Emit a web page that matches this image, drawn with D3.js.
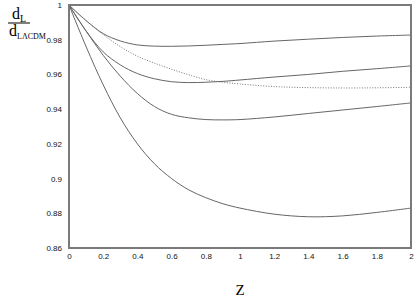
<!DOCTYPE html>
<html><head><meta charset="utf-8">
<script src="https://cdn.jsdelivr.net/npm/d3@7"></script>
<style>body{margin:0;background:#fff}svg{display:block}</style>
</head><body>
<script>
const zValues = [0,0.1,0.2,0.3,0.4,0.5,0.6,0.7,0.8,0.9,1.0,1.2,1.4,1.6,1.8,2.0];
const curveA = [1,0.991,0.9835,0.9793,0.977,0.9763,0.9762,0.9764,0.9768,0.9773,0.9778,0.9792,0.9803,0.9813,0.9821,0.9827];
const curveDotted = [1,0.991,0.983,0.976,0.9705,0.9665,0.963,0.9598,0.957,0.9555,0.9545,0.953,0.9524,0.9522,0.9523,0.9526];
const curveB = [1,0.985,0.973,0.9655,0.9605,0.9575,0.9558,0.9553,0.9555,0.956,0.9568,0.9585,0.960,0.9618,0.9633,0.9649];
const curveC = [1,0.985,0.971,0.959,0.949,0.9415,0.937,0.935,0.934,0.9338,0.934,0.9355,0.9375,0.9395,0.9415,0.9436];
const curveD = [1,0.976,0.954,0.935,0.920,0.9085,0.900,0.8935,0.889,0.8855,0.883,0.8795,0.878,0.8785,0.8805,0.883];
const xTicks = [0,0.2,0.4,0.6,0.8,1,1.2,1.4,1.6,1.8,2];
const yTicks = [0.86,0.88,0.9,0.92,0.94,0.96,0.98,1];

const W=415,H=297;
const svg=d3.select("body").append("svg").attr("width",W).attr("height",H);
const x=d3.scaleLinear().domain([0,2]).range([69,411]);
const y=d3.scaleLinear().domain([0.86,1]).range([248,5]);

const series=[
 {v:curveA,dash:null,c:"#666"},
 {v:curveDotted,dash:"1,1.6",c:"#777"},
 {v:curveB,dash:null,c:"#666"},
 {v:curveC,dash:null,c:"#666"},
 {v:curveD,dash:null,c:"#666"}
];
const line=d3.line().x(d=>x(d[0])).y(d=>y(d[1])).curve(d3.curveCatmullRom.alpha(0.5));
series.forEach(s=>{
  svg.append("path").attr("d",line(zValues.map((z,i)=>[z,s.v[i]])))
    .attr("fill","none").attr("stroke",s.c).attr("stroke-width",1)
    .attr("stroke-dasharray",s.dash);
});

// frame
svg.append("rect").attr("x",69).attr("y",5).attr("width",342).attr("height",243)
  .attr("fill","none").attr("stroke","#7a7a7a").attr("stroke-width",2);

const yAxis=d3.axisLeft(y).tickValues(yTicks).tickSize(0).tickPadding(7).tickFormat(d=>d3.format("")(+d.toFixed(2)));
const ga=svg.append("g").attr("transform","translate(69,0)").call(yAxis);
ga.select(".domain").remove();
ga.selectAll("text").attr("font-family","Liberation Sans, Arial, sans-serif").attr("font-size",8).attr("fill","#111");

const xAxis=d3.axisBottom(x).tickValues(xTicks).tickSize(0).tickPadding(5).tickFormat(d=>d3.format("")(+d.toFixed(1)));
const gx=svg.append("g").attr("transform","translate(0,248)").call(xAxis);
gx.select(".domain").remove();
gx.selectAll("text").attr("font-family","Liberation Sans, Arial, sans-serif").attr("font-size",8).attr("fill","#111");

// x label
svg.append("text").attr("x",240).attr("y",295).attr("text-anchor","middle")
  .attr("font-family","Liberation Serif, Times New Roman, serif").attr("font-size",15).text("Z");

// y label fraction
const num=svg.append("text").attr("x",12).attr("y",19).attr("font-family","Liberation Serif, serif").attr("font-size",16);
num.append("tspan").text("d");
num.append("tspan").attr("font-size",10).attr("dy",3).text("L");
svg.append("line").attr("x1",8).attr("x2",30).attr("y1",23).attr("y2",23).attr("stroke","#000").attr("stroke-width",1);
const den=svg.append("text").attr("x",9).attr("y",36).attr("font-family","Liberation Serif, serif").attr("font-size",16);
den.append("tspan").text("d");
den.append("tspan").attr("font-size",8).attr("dy",3).text("LΛCDM");
</script>
</body></html>
